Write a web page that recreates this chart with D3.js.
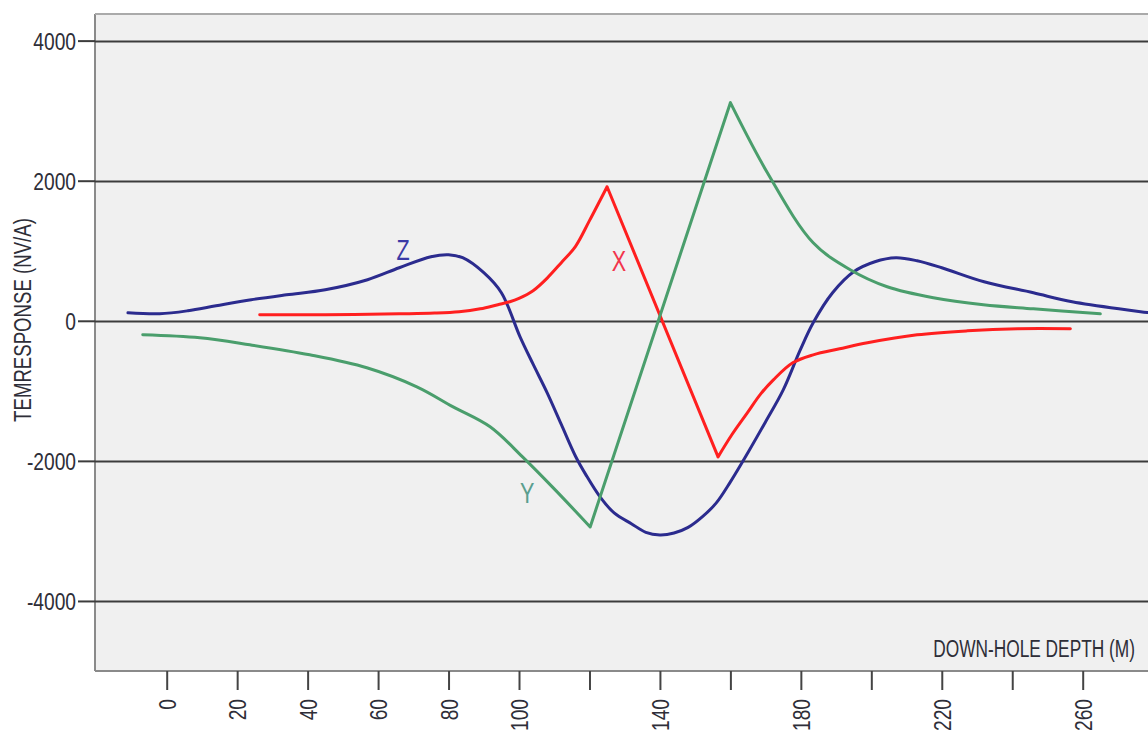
<!DOCTYPE html>
<html>
<head>
<meta charset="utf-8">
<script src="https://cdn.jsdelivr.net/npm/d3@7"></script>
<style>
  html, body { margin: 0; padding: 0; background: #ffffff; }
  svg { display: block; }
  .narrow { font-family: 'Liberation Sans', Arial, sans-serif; }
</style>
</head>
<body>
<svg id="chart" width="1148" height="734"></svg>
<script>
// ---- data ----
const depthTicks = [0, 20, 40, 60, 80, 100, 120, 140, 160, 180, 200, 220, 240, 260];
const depthTickLabels = ["0", "20", "40", "60", "80", "100", "", "140", "", "180", "", "220", "", "260"];
const responseTicks = [-4000, -2000, 0, 2000, 4000];

const zDepth = [-11, -2, 6, 14, 24, 34, 45, 57, 66, 75, 80, 84, 90, 95, 100.3, 104, 108, 112, 116, 119, 123, 127, 132, 136, 140, 144, 148, 152, 156, 160, 165, 170, 175, 179.8, 183.5, 189, 195, 201, 207, 213, 220, 232, 246, 257, 279];
const zResp  = [114, 100, 143, 214, 300, 371, 443, 586, 757, 914, 943, 900, 686, 400, -229, -620, -1029, -1480, -1930, -2200, -2514, -2743, -2900, -3020, -3057, -3030, -2950, -2800, -2600, -2300, -1880, -1440, -986, -420, -29, 400, 700, 843, 900, 857, 757, 557, 400, 271, 114];

const xDepth = [26.4, 45, 66, 76, 83, 89, 94, 97.4, 100, 104, 108, 112, 116, 120, 125, 156.5, 160.5, 164.8, 168.5, 172.2, 177.7, 183.5, 191, 198.9, 213, 227.3, 241.5, 256.5];
const xResp  = [86, 86, 100, 110, 129, 171, 230, 271, 320, 430, 610, 830, 1060, 1430, 1914, -1943, -1620, -1314, -1050, -843, -600, -486, -400, -314, -200, -143, -114, -114];

const yDepth = [-6.8, 9.4, 23.6, 40.6, 56.8, 71, 81.3, 91.8, 101, 110, 120.2, 160, 170.5, 183.5, 194, 204.5, 217.6, 231.8, 246, 265];
const yResp  = [-200, -243, -343, -486, -671, -943, -1229, -1514, -1943, -2400, -2943, 3114, 2114, 1114, 729, 486, 329, 229, 171, 100];

// depths where a curve has a sharp corner (peak / trough)
const zCorners = [];
const xCorners = [125, 156.5];
const yCorners = [120.2, 160];

const seriesNames = ["Z", "X", "Y"];
const seriesLabelDepth = [67.1, 128.4, 102.3];
const seriesLabelResp = [868, 711, -2601];

// ---- layout ----
const svg = d3.select("#chart");
const plotLeft = 95, plotRight = 1160, plotTop = 14, plotBottom = 671;
const SX = 0.8; // horizontal glyph compression (condensed look)

const x = d3.scaleLinear().domain([0, 260]).range([166.7, 1082.7]);
const y = d3.scaleLinear().domain([-5000, 4380]).range([plotBottom, plotTop]);

const lineColors = { Z: "#2b2b8e", X: "#ff1f1f", Y: "#4a9e6c" };
const labelColors = { Z: "#3a3aa6", X: "#f2344c", Y: "#5a9e8e" };
const textColor = "#2e2e38";

// plot background
svg.append("rect")
  .attr("x", plotLeft).attr("y", plotTop)
  .attr("width", plotRight - plotLeft).attr("height", plotBottom - plotTop)
  .attr("fill", "#f0f0f0");

// border (left, top, bottom)
svg.append("line").attr("x1", plotLeft).attr("x2", plotLeft).attr("y1", plotTop).attr("y2", plotBottom)
  .attr("stroke", "#8a8a8a").attr("stroke-width", 2);
svg.append("line").attr("x1", plotLeft).attr("x2", 1148).attr("y1", plotTop).attr("y2", plotTop)
  .attr("stroke", "#aaaaaa").attr("stroke-width", 2);
svg.append("line").attr("x1", plotLeft).attr("x2", 1148).attr("y1", plotBottom).attr("y2", plotBottom)
  .attr("stroke", "#8a8a8a").attr("stroke-width", 2);

// horizontal grid lines
svg.append("g").selectAll("line").data(responseTicks).join("line")
  .attr("x1", plotLeft).attr("x2", 1148)
  .attr("y1", d => Math.round(y(d)) + 0.5).attr("y2", d => Math.round(y(d)) + 0.5)
  .attr("stroke", "#3c3c3c").attr("stroke-width", 2);

// y axis
const yAxis = svg.append("g")
  .attr("transform", `translate(${plotLeft},0)`)
  .call(d3.axisLeft(y).tickValues(responseTicks).tickSize(17).tickPadding(2).tickFormat(d => String(d)));
yAxis.select(".domain").remove();
yAxis.selectAll(".tick line").attr("stroke", "#3c3c3c").attr("stroke-width", 2);
yAxis.selectAll(".tick text")
  .attr("class", "narrow")
  .attr("fill", textColor)
  .style("font-size", "24px")
  .attr("transform", `scale(${SX},1)`)
  .attr("x", -19 / SX)
  .attr("dy", "0.36em");

// x axis
const xAxis = svg.append("g")
  .attr("transform", `translate(0,${plotBottom})`)
  .call(d3.axisBottom(x).tickValues(depthTicks).tickSize(19)
    .tickFormat((d, i) => depthTickLabels[i]));
xAxis.select(".domain").remove();
xAxis.selectAll(".tick line").attr("stroke", "#444").attr("stroke-width", 2);
xAxis.selectAll(".tick text")
  .attr("class", "narrow")
  .attr("fill", textColor)
  .style("font-size", "24px")
  .attr("transform", `rotate(-90) scale(${SX},1)`)
  .attr("text-anchor", "end")
  .attr("x", -28 / SX).attr("y", 0).attr("dy", "0.36em");

// axis titles (condensed by a horizontal scale fitted to the reference width)
const yTitle = svg.append("text")
  .attr("class", "narrow")
  .attr("text-anchor", "middle")
  .attr("fill", textColor)
  .style("font-size", "24px")
  .text("TEMRESPONSE (NV/A)");
const yTitleK = 204 / yTitle.node().getComputedTextLength();
yTitle.attr("transform", `translate(31,320) rotate(-90) scale(${yTitleK},1)`);

const xTitle = svg.append("text")
  .attr("class", "narrow")
  .attr("text-anchor", "end")
  .attr("fill", textColor)
  .style("font-size", "24px")
  .text("DOWN-HOLE DEPTH (M)");
const xTitleK = 202 / xTitle.node().getComputedTextLength();
xTitle.attr("transform", `translate(1135,657) scale(${xTitleK},1)`);

// series lines
svg.append("clipPath").attr("id", "plotclip")
  .append("rect").attr("x", plotLeft).attr("y", plotTop)
  .attr("width", plotRight - plotLeft).attr("height", plotBottom - plotTop);

const smooth = d3.line().x(d => x(d[0])).y(d => y(d[1])).curve(d3.curveCatmullRom.alpha(0.5));
function pathWithCorners(pts, corners) {
  // split at sharp corners, smooth each piece
  const pieces = [];
  let cur = [];
  pts.forEach(p => {
    cur.push(p);
    if (corners.includes(p[0])) { pieces.push(cur); cur = [p]; }
  });
  if (cur.length > 1) pieces.push(cur);
  return pieces.map(pc => smooth(pc)).join("");
}

const series = [
  { name: "Z", pts: d3.zip(zDepth, zResp), corners: zCorners },
  { name: "X", pts: d3.zip(xDepth, xResp), corners: xCorners },
  { name: "Y", pts: d3.zip(yDepth, yResp), corners: yCorners }
];
svg.append("g").attr("clip-path", "url(#plotclip)")
  .selectAll("path").data(series).join("path")
  .attr("d", d => pathWithCorners(d.pts, d.corners))
  .attr("fill", "none")
  .attr("stroke", d => lineColors[d.name])
  .attr("stroke-width", 3)
  .attr("stroke-linejoin", "round")
  .attr("stroke-linecap", "round");

// series labels
svg.append("g").selectAll("text").data(seriesNames).join("text")
  .attr("class", "narrow")
  .attr("transform", (d, i) => `translate(${x(seriesLabelDepth[i])},${y(seriesLabelResp[i])}) scale(0.72,1)`)
  .attr("text-anchor", "middle")
  .attr("fill", d => labelColors[d])
  .style("font-size", "30px")
  .text(d => d);
</script>
</body>
</html>
